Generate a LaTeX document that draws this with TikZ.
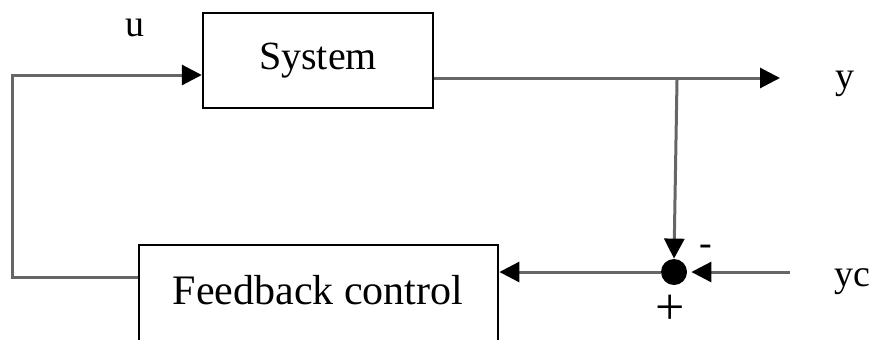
\documentclass[tikz,border=0pt]{standalone}
\usepackage{fontspec}
\setmainfont{Liberation Serif}
\usetikzlibrary{arrows.meta, positioning}
\tikzset{
x=0.5pt, y=-0.5pt, % one unit is one pixel of the reference
block/.style={draw, line width=1.2pt, fill=white, font=\fontsize{20}{24}\selectfont}, % the two boxes
signal/.style={draw=black!60, line width=1.5pt}, % the gray signal lines
>={Triangle[length=10pt, width=10pt, black]}, % filled black arrow heads
lbl/.style={font=\fontsize{19}{22}\selectfont}, % signal names
}
\begin{document}
\begin{tikzpicture}
\useasboundingbox (0,0) rectangle (872,339);
\clip (0,0) rectangle (872,339);
% blocks
\node[block, minimum width=115pt, minimum height=47.5pt] (sys) at (318,60.5) {System};
\node[block, minimum width=179.5pt, minimum height=52pt, anchor=north west] (fb) at (138,244) {};
\node[block, draw=none, fill=none, font=\fontsize{21}{24}\selectfont] (fbtext) at (318,290) {Feedback control};
\node[circle, fill=black, inner sep=0pt, minimum size=13pt] (sum) at (674,272) {};
% free ends
\coordinate (fbout) at (138,277);
\coordinate (lbot) at (12,277);
\coordinate (ltop) at (12,75);
\coordinate (yend) at (780,78);
\coordinate (tap) at (677,80);
\coordinate (ycin) at (790,272);
% labels
\node[lbl] (ulbl) at (135,28) {u};
\node[lbl] (ylbl) at (845,84) {y};
\node[lbl] (yclbl) at (852,282) {yc};
\node[lbl] (minus) at (706,250) {-};
\node[lbl, font=\fontsize{26}{28}\selectfont] (plus) at (670,310) {+};
% connectors
\draw[signal, ->] (fbout) -- (lbot) -- (ltop) -- (sys.west |- ltop);
\draw[signal, ->] (sys.east |- yend) -- (yend);
\draw[signal, ->] (tap) -- (sum.north);
\draw[signal, ->] (sum.west) -- (fb.east |- sum);
\draw[signal, ->, shorten >=2pt] (ycin) -- (sum.east);
\end{tikzpicture}
\end{document}
